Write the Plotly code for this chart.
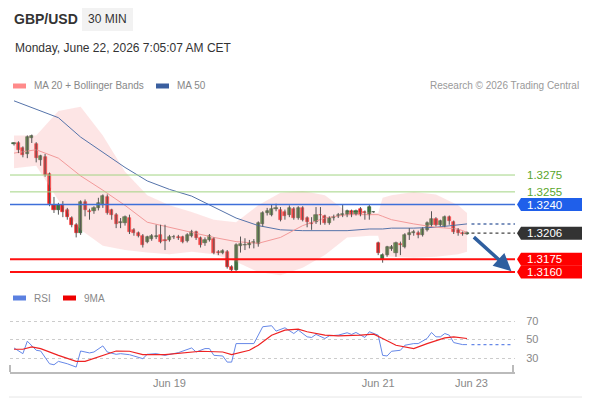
import plotly.graph_objects as go

# ---- price candles (30 min) ----
opens = [1.3312, 1.3313, 1.3307, 1.3300, 1.3319, 1.3312, 1.3293, 1.3296, 1.3276, 1.3239,
         1.3233, 1.3240, 1.3233, 1.3224, 1.3216, 1.3206, 1.3243, 1.3232, 1.3232, 1.3236,
         1.3240, 1.3249, 1.3233, 1.3228, 1.3218, 1.3218, 1.3224, 1.3210, 1.3206, 1.3203,
         1.3196, 1.3199, 1.3202, 1.3204, 1.3198, 1.3198, 1.3201, 1.3202, 1.3201, 1.3197,
         1.3203, 1.3207, 1.3200, 1.3194, 1.3198, 1.3199, 1.3184, 1.3183, 1.3184, 1.3166,
         1.3162, 1.3191, 1.3192, 1.3192, 1.3194, 1.3193, 1.3217, 1.3230, 1.3228, 1.3235,
         1.3234, 1.3231, 1.3227, 1.3235, 1.3224, 1.3236, 1.3224, 1.3218, 1.3219, 1.3228,
         1.3226, 1.3218, 1.3224, 1.3226, 1.3228, 1.3227, 1.3232, 1.3229, 1.3235, 1.3231,
         1.3228, 1.3231, 1.3194, 1.3175, 1.3180, 1.3187, 1.3182, 1.3193, 1.3190, 1.3204,
         1.3206, 1.3206, 1.3204, 1.3210, 1.3216, 1.3223, 1.3216, 1.3215, 1.3225, 1.3219,
         1.3210, 1.3206, 1.3205]
highs = [1.3314, 1.3315, 1.3309, 1.3322, 1.3323, 1.3314, 1.3299, 1.3300, 1.3278, 1.3249,
         1.3242, 1.3244, 1.3236, 1.3226, 1.3218, 1.3245, 1.3246, 1.3235, 1.3238, 1.3248,
         1.3252, 1.3252, 1.3235, 1.3230, 1.3224, 1.3227, 1.3228, 1.3212, 1.3208, 1.3205,
         1.3203, 1.3205, 1.3216, 1.3216, 1.3216, 1.3204, 1.3204, 1.3204, 1.3203, 1.3206,
         1.3210, 1.3209, 1.3202, 1.3201, 1.3205, 1.3201, 1.3186, 1.3187, 1.3186, 1.3168,
         1.3194, 1.3202, 1.3200, 1.3198, 1.3199, 1.3220, 1.3232, 1.3236, 1.3240, 1.3241,
         1.3237, 1.3234, 1.3239, 1.3237, 1.3238, 1.3238, 1.3226, 1.3225, 1.3237, 1.3237,
         1.3228, 1.3226, 1.3228, 1.3230, 1.3240, 1.3234, 1.3234, 1.3234, 1.3237, 1.3233,
         1.3240, 1.3232, 1.3196, 1.3182, 1.3191, 1.3192, 1.3196, 1.3196, 1.3206, 1.3212,
         1.3210, 1.3209, 1.3213, 1.3220, 1.3232, 1.3225, 1.3222, 1.3227, 1.3227, 1.3221,
         1.3212, 1.3208, 1.3208]
lows = [1.3310, 1.3301, 1.3296, 1.3295, 1.3313, 1.3290, 1.3286, 1.3273, 1.3238, 1.3230,
        1.3228, 1.3225, 1.3222, 1.3213, 1.3201, 1.3204, 1.3226, 1.3222, 1.3229, 1.3233,
        1.3236, 1.3228, 1.3222, 1.3212, 1.3212, 1.3215, 1.3205, 1.3203, 1.3201, 1.3189,
        1.3194, 1.3197, 1.3199, 1.3194, 1.3186, 1.3196, 1.3199, 1.3198, 1.3194, 1.3195,
        1.3201, 1.3198, 1.3189, 1.3191, 1.3196, 1.3181, 1.3180, 1.3181, 1.3164, 1.3159,
        1.3160, 1.3183, 1.3186, 1.3188, 1.3188, 1.3190, 1.3214, 1.3227, 1.3226, 1.3232,
        1.3220, 1.3222, 1.3225, 1.3222, 1.3222, 1.3220, 1.3213, 1.3210, 1.3217, 1.3216,
        1.3216, 1.3216, 1.3221, 1.3224, 1.3225, 1.3225, 1.3225, 1.3227, 1.3226, 1.3222,
        1.3222, 1.3230, 1.3180, 1.3171, 1.3178, 1.3185, 1.3178, 1.3180, 1.3188, 1.3198,
        1.3203, 1.3200, 1.3202, 1.3208, 1.3214, 1.3214, 1.3214, 1.3213, 1.3216, 1.3205,
        1.3203, 1.3203, 1.3204]
closes = [1.3313, 1.3305, 1.3299, 1.3320, 1.3321, 1.3295, 1.3297, 1.3275, 1.3241, 1.3233,
          1.3239, 1.3231, 1.3225, 1.3216, 1.3206, 1.3243, 1.3233, 1.3231, 1.3236, 1.3242,
          1.3250, 1.3230, 1.3228, 1.3217, 1.3219, 1.3225, 1.3207, 1.3206, 1.3203, 1.3192,
          1.3201, 1.3203, 1.3203, 1.3196, 1.3197, 1.3201, 1.3202, 1.3200, 1.3196, 1.3204,
          1.3207, 1.3200, 1.3192, 1.3198, 1.3203, 1.3183, 1.3183, 1.3185, 1.3166, 1.3162,
          1.3192, 1.3193, 1.3192, 1.3194, 1.3195, 1.3218, 1.3230, 1.3232, 1.3235, 1.3236,
          1.3222, 1.3226, 1.3236, 1.3224, 1.3236, 1.3222, 1.3219, 1.3217, 1.3228, 1.3227,
          1.3218, 1.3224, 1.3225, 1.3228, 1.3228, 1.3232, 1.3227, 1.3232, 1.3228, 1.3230,
          1.3237, 1.3231, 1.3182, 1.3180, 1.3190, 1.3190, 1.3194, 1.3192, 1.3204, 1.3206,
          1.3207, 1.3204, 1.3211, 1.3218, 1.3223, 1.3216, 1.3220, 1.3225, 1.3220, 1.3207,
          1.3206, 1.3205, 1.3206]

# ---- indicator lines, sampled at these candle positions ----
ind_idx = [0, 5, 10, 15, 20, 25, 30, 35, 40, 45, 50, 55, 60, 65, 70, 75, 80, 82, 83, 85, 90, 95, 100, 102]
ma50 = [1.3363, 1.3353, 1.3343, 1.3320, 1.3302, 1.3284, 1.3268, 1.3258, 1.3250, 1.3237, 1.3224, 1.3215,
        1.3210, 1.3209, 1.3209, 1.3209, 1.3211, 1.3211, 1.3211, 1.3212, 1.3212, 1.3213, 1.3216, 1.3217]
ma20 = [1.3301, 1.3305, 1.3295, 1.3274, 1.3257, 1.3239, 1.3219, 1.3213, 1.3207, 1.3201, 1.3196, 1.3194,
        1.3201, 1.3215, 1.3224, 1.3228, 1.3228, 1.3228, 1.3226, 1.3222, 1.3217, 1.3213, 1.3211, 1.3207]
bb_upper = [1.3322, 1.3322, 1.3351, 1.3356, 1.3322, 1.3279, 1.3251, 1.3239, 1.3231, 1.3222, 1.3219, 1.3239,
            1.3254, 1.3256, 1.3251, 1.3231, 1.3231, 1.3230, 1.3248, 1.3251, 1.3255, 1.3252, 1.3239, 1.3230]
bb_lower = [1.3283, 1.3286, 1.3245, 1.3210, 1.3191, 1.3186, 1.3183, 1.3181, 1.3184, 1.3181, 1.3172, 1.3160,
            1.3156, 1.3165, 1.3180, 1.3201, 1.3203, 1.3203, 1.3179, 1.3178, 1.3177, 1.3178, 1.3181, 1.3184]

# ---- RSI and its 9-period MA ----
rsi_idx = [0, 2, 3, 5, 6, 8, 9, 10, 12, 14, 15, 17, 18, 20, 21, 23, 24, 26, 27, 29,
           30, 32, 34, 36, 37, 40, 41, 43, 44, 45, 47, 48, 49, 50, 52, 54, 56, 58, 59, 61,
           63, 64, 66, 67, 68, 70, 71, 73, 75, 76, 77, 79, 80, 82, 83, 84, 85, 87, 88, 90,
           91, 93, 94, 95, 96, 97, 98, 99, 101, 102]
rsi = [40.9, 34.7, 48.2, 38.4, 37.6, 23.8, 22.7, 26.4, 23.8, 20.2, 37.6, 35.5, 36.5, 43.1, 36.5, 34.0, 34.7, 33.6, 32.2, 29.3,
       34.0, 34.7, 32.9, 34.7, 35.8, 40.9, 36.5, 40.2, 40.2, 32.9, 32.2, 25.6, 25.6, 45.6, 45.6, 45.6, 63.8, 64.9, 59.1, 62.7,
       56.5, 60.2, 52.9, 52.2, 55.5, 51.1, 54.0, 54.7, 57.3, 55.5, 57.6, 52.2, 58.4, 54.7, 32.9, 32.2, 37.3, 38.4, 43.8, 45.6,
       45.6, 51.1, 57.6, 52.9, 52.9, 56.5, 54.7, 46.7, 44.5, 44.5]
ma9_idx = [0, 2, 4, 6, 10, 14, 16, 20, 23, 26, 29, 34, 37, 42, 47, 49, 53, 55, 58, 61,
           64, 66, 70, 73, 78, 81, 83, 86, 90, 93, 97, 99, 102]
ma9 = [39.5, 39.5, 42.0, 40.2, 32.9, 26.4, 26.4, 32.9, 37.6, 37.3, 33.6, 33.6, 34.7, 37.3, 36.5, 33.6, 38.4, 43.8, 54.7, 60.2,
       61.3, 58.4, 54.7, 54.0, 54.7, 55.8, 51.1, 43.8, 40.2, 45.6, 51.8, 52.9, 51.1]

# ---- levels ----
resistances = [1.3275, 1.3255]
pivot = 1.3240
last_price = 1.3206
supports = [1.3175, 1.3160]

date_ticks = [35, 82, 103]
date_labels = ["Jun 19", "Jun 21", "Jun 23"]

X_END = 112.8
# the page body keeps an 8px margin, so the figure is drawn 8px smaller
# and all the pixel positions below are given in window coordinates
OFF = 8
W, H = 590, 400
PL, PR, PT, PB = 10, 515, 100, 372   # plot area in window pixels
PW, PH = PR - PL, PB - PT


def px(x):
    return (x - PL) / PW


def py(y):
    return (PB - y) / PH


FONT = "Liberation Sans, Arial, sans-serif"
GREEN = "#2f8f2f"
RED = "#ee1c1c"

n = len(closes)
idx = list(range(n))

fig = go.Figure()

# bollinger band
fig.add_trace(go.Scatter(x=ind_idx, y=bb_lower, mode="lines", line=dict(width=0), hoverinfo="skip"))
fig.add_trace(go.Scatter(x=ind_idx, y=bb_upper, mode="lines", line=dict(width=0), fill="tonexty",
                         fillcolor="rgba(250,170,170,0.30)", hoverinfo="skip"))
fig.add_trace(go.Scatter(x=ind_idx, y=ma50, mode="lines", line=dict(color="#5573aa", width=1)))
fig.add_trace(go.Scatter(x=[ind_idx[-1] + 1, X_END], y=[ma50[-1], ma50[-1]], mode="lines",
                         line=dict(color="#5573aa", width=1.5, dash="dot")))
fig.add_trace(go.Scatter(x=ind_idx, y=ma20, mode="lines", line=dict(color="#f39a9a", width=1)))
fig.add_trace(go.Scatter(x=[idx[-1] + 1, X_END], y=[last_price, last_price], mode="lines",
                         line=dict(color="#444444", width=1.2, dash="dot")))

# wicks
wx, wy = [], []
for i in idx:
    wx += [i, i, None]
    wy += [lows[i], highs[i], None]
fig.add_trace(go.Scatter(x=wx, y=wy, mode="lines", line=dict(color="#555555", width=1)))

# bodies
base = [min(o, c) for o, c in zip(opens, closes)]
size = [max(abs(c - o), 0.00004) for o, c in zip(opens, closes)]
cols = [GREEN if c >= o else RED for o, c in zip(opens, closes)]
edge = ["#254425" if c >= o else RED for o, c in zip(opens, closes)]
fig.add_trace(go.Bar(x=idx, y=size, base=base, width=0.7,
                     marker=dict(color=cols, line=dict(color=edge, width=0.6))))

# RSI panel
fig.add_trace(go.Scatter(x=rsi_idx, y=rsi, mode="lines", line=dict(color="#6688e8", width=1),
                         xaxis="x2", yaxis="y2"))
fig.add_trace(go.Scatter(x=[rsi_idx[-1] + 1, X_END - 0.5], y=[rsi[-1], rsi[-1]], mode="lines",
                         line=dict(color="#6688e8", width=1.3, dash="dot"), xaxis="x2", yaxis="y2"))
fig.add_trace(go.Scatter(x=ma9_idx, y=ma9, mode="lines", line=dict(color="#ee2222", width=1.2),
                         xaxis="x2", yaxis="y2"))

shapes = []
annotations = []

# level lines
for lv in resistances:
    shapes.append(dict(type="line", xref="paper", x0=0, x1=1, yref="y", y0=lv, y1=lv,
                       line=dict(color="#a3d483", width=1)))
shapes.append(dict(type="line", xref="paper", x0=0, x1=1, yref="y", y0=pivot, y1=pivot,
                   line=dict(color="#3d6fd9", width=1.5)))
for lv in supports:
    shapes.append(dict(type="line", xref="paper", x0=0, x1=1, yref="y", y0=lv, y1=lv,
                       line=dict(color="#ff1010", width=2)))

# price tags on the right
tag_path = "M 2,0 L 6,6.5 L 71,6.5 L 71,-6.5 L 6,-6.5 Z"
for lv, col in [(pivot, "#1f5fea"), (last_price, "#333333"), (supports[0], "#ff0000"), (supports[1], "#ff0000")]:
    shapes.append(dict(type="path", xref="paper", xsizemode="pixel", xanchor=1,
                       yref="y", ysizemode="pixel", yanchor=lv, path=tag_path,
                       fillcolor=col, line=dict(width=0)))
    annotations.append(dict(xref="paper", x=px(525), yref="y", y=lv, text=f"{lv:.4f}", showarrow=False,
                            xanchor="left", yanchor="middle", font=dict(color="white", size=11.5, family=FONT)))
for lv in resistances:
    annotations.append(dict(xref="paper", x=px(525), yref="y", y=lv, text=f"{lv:.4f}", showarrow=False,
                            xanchor="left", yanchor="middle", font=dict(color="#5aa52c", size=11.5, family=FONT)))

# forecast arrow
annotations.append(dict(x=112.0, y=1.3161, xref="x", yref="y", ax=103.2, ay=1.3203, axref="x", ayref="y",
                        text="", showarrow=True, arrowhead=2, arrowsize=1, arrowwidth=3.5, arrowcolor="#2f5f9f"))

# header
for x0, x1, y0, y1 in [(588, 588, 9, 397), (9, 588, 397, 397)]:
    shapes.append(dict(type="line", xref="paper", yref="paper", x0=px(x0), x1=px(x1), y0=py(y0), y1=py(y1),
                       line=dict(color="#e6e6e6", width=1), layer="below"))
shapes.append(dict(type="rect", xref="paper", yref="paper", x0=px(82), x1=px(133), y0=py(31), y1=py(7),
                   fillcolor="#f2f2f2", line=dict(width=0), layer="below"))
annotations += [
    dict(xref="paper", yref="paper", x=px(12), y=py(19), text="<b>GBP/USD</b>", showarrow=False,
         xanchor="left", yanchor="middle", font=dict(size=14, color="#333333", family=FONT)),
    dict(xref="paper", yref="paper", x=px(107.5), y=py(19), text="30 MIN", showarrow=False,
         xanchor="center", yanchor="middle", font=dict(size=12, color="#333333", family=FONT)),
    dict(xref="paper", yref="paper", x=px(13), y=py(48), text="Monday, June 22, 2026 7:05:07 AM CET",
         showarrow=False, xanchor="left", yanchor="middle", font=dict(size=12, color="#333333", family=FONT)),
    dict(xref="paper", yref="paper", x=px(581), y=py(86), text="Research © 2026 Trading Central",
         showarrow=False, xanchor="right", yanchor="middle", font=dict(size=10, color="#999999", family=FONT)),
]

# legends
for x0, yc, col, label in [(13, 86, "#ff8a8a", "MA 20 + Bollinger Bands"), (156, 86, "#3a5f9f", "MA 50"),
                           (13, 298, "#5b80e0", "RSI"), (63, 298, "#ee0000", "9MA")]:
    shapes.append(dict(type="rect", xref="paper", yref="paper", x0=px(x0), x1=px(x0 + 13),
                       y0=py(yc + 2.5), y1=py(yc - 2.5), fillcolor=col, line=dict(width=0)))
    annotations.append(dict(xref="paper", yref="paper", x=px(x0 + 19), y=py(yc), text=label, showarrow=False,
                            xanchor="left", yanchor="middle", font=dict(size=10, color="#888888", family=FONT)))

# end ticks of the time axis
for xe in (10, 513):
    shapes.append(dict(type="line", xref="paper", yref="paper", x0=px(xe), x1=px(xe), y0=py(372), y1=py(365),
                       line=dict(color="#bbbbbb", width=2)))

fig.update_layout(
    width=W - OFF, height=H - OFF,
    margin=dict(l=PL - OFF, r=W - PR, t=PT - OFF, b=H - PB, autoexpand=False),
    paper_bgcolor="white", plot_bgcolor="white",
    showlegend=False, barmode="overlay", bargap=0,
    font=dict(family=FONT),
    shapes=shapes, annotations=annotations,
    xaxis=dict(range=[-0.9, X_END], domain=[0, 1], anchor="y", visible=False, fixedrange=True),
    yaxis=dict(range=[1.31481, 1.3364], domain=[py(282), 1], visible=False, fixedrange=True),
    xaxis2=dict(range=[-0.9, X_END], domain=[0, 1], anchor="y2", matches="x",
                tickvals=date_ticks, ticktext=date_labels, showgrid=False, zeroline=False,
                showline=True, linecolor="#bbbbbb", linewidth=2, ticks="",
                tickfont=dict(size=11, color="#888888", family=FONT)),
    yaxis2=dict(range=[14.9, 84.05], domain=[0, py(308)], anchor="x2", side="right",
                tickvals=[30, 50, 70], showgrid=True, gridcolor="#cccccc", griddash="dot",
                zeroline=False, showline=False, ticks="outside", ticklen=8, tickcolor="rgba(0,0,0,0)",
                tickfont=dict(size=11, color="#888888", family=FONT)),
)

fig.write_html("out.html")
